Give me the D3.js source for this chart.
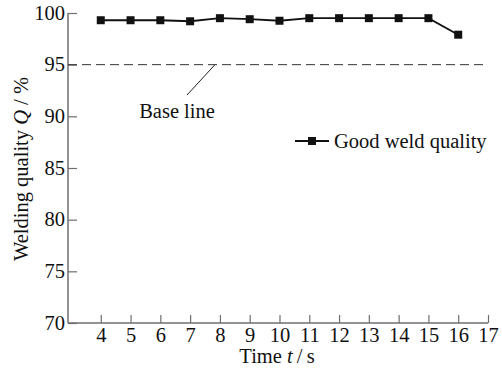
<!DOCTYPE html>
<html><head><meta charset="utf-8">
<script src="https://cdn.jsdelivr.net/npm/d3@7"></script>
<style>body{margin:0;background:#fff}text{font-family:"Liberation Serif","Times New Roman",serif;}</style>
</head><body><svg id="c" width="502" height="369"></svg>
<script>
const times = [4,5,6,7,8,9,10,11,12,13,14,15,16];
const quality = [99.3,99.3,99.3,99.2,99.5,99.4,99.25,99.5,99.5,99.5,99.5,99.5,97.9];
const xTicks = [4,5,6,7,8,9,10,11,12,13,14,15,16,17];
const yTicks = [70,75,80,85,90,95,100];
const baseValue = 95;
const seriesName = "Good weld quality";

const FS = 20.5;
const svg = d3.select("#c");
const x = d3.scaleLinear().domain([2.9,17]).range([68,488]);
const y = d3.scaleLinear().domain([70,100]).range([323,13]);
const axisColor = "#6e6e6e";

// y axis
const ya = svg.append("g").attr("transform","translate(68,0)")
  .call(d3.axisRight(y).tickValues(yTicks).tickSize(9).tickFormat(d3.format("d")));
ya.attr("font-family",null).attr("font-size",null);
ya.select(".domain").attr("stroke",axisColor).attr("stroke-width",1.5).attr("d","M0,13V323");
ya.selectAll(".tick line").attr("stroke",axisColor).attr("stroke-width",1.2);
ya.selectAll(".tick text").attr("x",-3).attr("dy","0.3em").attr("text-anchor","end").attr("font-size",FS).attr("fill","#111");

// x axis
const xa = svg.append("g").attr("transform","translate(0,323)")
  .call(d3.axisTop(x).tickValues(xTicks).tickSize(8).tickFormat(d3.format("d")));
xa.attr("font-family",null).attr("font-size",null);
xa.select(".domain").attr("stroke",axisColor).attr("stroke-width",1.5).attr("d","M68,0H488");
xa.selectAll(".tick line").attr("stroke",axisColor).attr("stroke-width",1.2);
xa.selectAll(".tick text").attr("y",19).attr("dy","0").attr("font-size",FS).attr("fill","#111");

// base line
svg.append("line").attr("x1",68).attr("x2",488).attr("y1",y(baseValue)).attr("y2",y(baseValue))
  .attr("stroke","#333").attr("stroke-width",1).attr("stroke-dasharray","9,5");
svg.append("line").attr("x1",187).attr("y1",95).attr("x2",215).attr("y2",y(baseValue))
  .attr("stroke","#222").attr("stroke-width",1);
svg.append("text").attr("x",177).attr("y",118).attr("text-anchor","middle").attr("font-size",FS)
  .attr("fill","#111").text("Base line");

// series
const line = d3.line().x((d,i)=>x(times[i])).y(d=>y(d));
svg.append("path").datum(quality).attr("d",line).attr("fill","none").attr("stroke","#111").attr("stroke-width",1.8);
svg.selectAll("rect.m").data(quality).enter().append("rect").attr("class","m")
  .attr("x",(d,i)=>x(times[i])-4).attr("y",d=>y(d)-4).attr("width",8).attr("height",8).attr("fill","#111");

// legend
svg.append("line").attr("x1",295).attr("x2",329).attr("y1",141).attr("y2",141).attr("stroke","#111").attr("stroke-width",1.8);
svg.append("rect").attr("x",308).attr("y",137).attr("width",8).attr("height",8).attr("fill","#111");
svg.append("text").attr("x",334).attr("y",148).attr("font-size",FS).attr("fill","#111").text(seriesName);

// axis titles
const yt = svg.append("text").attr("transform","translate(28,169) rotate(-90)").attr("text-anchor","middle")
  .attr("font-size",FS).attr("fill","#111");
yt.append("tspan").text("Welding quality ");
yt.append("tspan").attr("font-style","italic").text("Q");
yt.append("tspan").text(" / %");
const xt = svg.append("text").attr("x",277).attr("y",363).attr("text-anchor","middle").attr("font-size",FS).attr("fill","#111");
xt.append("tspan").text("Time ");
xt.append("tspan").attr("font-style","italic").text("t");
xt.append("tspan").text("\u2009/\u2009s");
</script></body></html>
